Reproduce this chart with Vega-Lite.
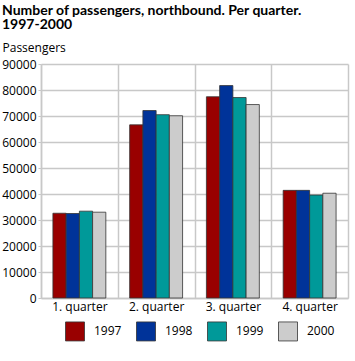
{
  "$schema": "https://vega.github.io/schema/vega-lite/v6.json",
  "autosize": "none",
  "width": 307,
  "height": 234,
  "padding": {"left": 41, "top": 64, "right": 7, "bottom": 63},
  "background": "white",
  "title": {
    "text": ["Number of passengers, northbound. Per quarter.", "1997-2000"],
    "anchor": "start",
    "frame": "group",
    "dx": -39,
    "offset": 9,
    "font": "Lato",
    "fontSize": 14,
    "fontWeight": "bold",
    "color": "#000000",
    "lineHeight": 14
  },
  "data": {
    "values": [
      {"quarter": "1. quarter", "year": "1997", "passengers": 32600},
      {"quarter": "1. quarter", "year": "1998", "passengers": 32500},
      {"quarter": "1. quarter", "year": "1999", "passengers": 33400},
      {"quarter": "1. quarter", "year": "2000", "passengers": 33000},
      {"quarter": "2. quarter", "year": "1997", "passengers": 66600},
      {"quarter": "2. quarter", "year": "1998", "passengers": 72100},
      {"quarter": "2. quarter", "year": "1999", "passengers": 70500},
      {"quarter": "2. quarter", "year": "2000", "passengers": 70100},
      {"quarter": "3. quarter", "year": "1997", "passengers": 77400},
      {"quarter": "3. quarter", "year": "1998", "passengers": 81700},
      {"quarter": "3. quarter", "year": "1999", "passengers": 77100},
      {"quarter": "3. quarter", "year": "2000", "passengers": 74400},
      {"quarter": "4. quarter", "year": "1997", "passengers": 41400},
      {"quarter": "4. quarter", "year": "1998", "passengers": 41400},
      {"quarter": "4. quarter", "year": "1999", "passengers": 39600},
      {"quarter": "4. quarter", "year": "2000", "passengers": 40300}
    ]
  },
  "mark": {"type": "bar", "stroke": "#333333", "strokeWidth": 0.8},
  "encoding": {
    "x": {
      "field": "quarter",
      "type": "nominal",
      "scale": {"paddingInner": 0, "paddingOuter": 0},
      "axis": {
        "title": null,
        "labelAngle": 0,
        "tickBand": "extent",
        "ticks": false,
        "grid": true,
        "gridColor": "#c8c8c8",
        "gridWidth": 1.5,
        "domainColor": "#c8c8c8",
        "domainWidth": 1.5,
        "labelFont": "Open Sans",
        "labelFontSize": 12,
        "labelColor": "#000000",
        "labelPadding": 3
      }
    },
    "xOffset": {
      "field": "year",
      "type": "nominal",
      "scale": {"paddingInner": 0, "paddingOuter": 0.9}
    },
    "y": {
      "field": "passengers",
      "type": "quantitative",
      "scale": {"domain": [0, 90000]},
      "axis": {
        "title": "Passengers",
        "titleAngle": 0,
        "titleAlign": "left",
        "titleBaseline": "alphabetic",
        "titleX": -39,
        "titleY": -13,
        "titleFont": "Open Sans",
        "titleFontSize": 12,
        "titleFontWeight": "normal",
        "titleColor": "#000000",
        "values": [0, 10000, 20000, 30000, 40000, 50000, 60000, 70000, 80000, 90000],
        "format": "d",
        "grid": true,
        "gridColor": "#c8c8c8",
        "gridWidth": 1.5,
        "domain": true,
        "domainColor": "#c8c8c8",
        "domainWidth": 1.5,
        "ticks": true,
        "tickSize": 3,
        "tickColor": "#c8c8c8",
        "labelFont": "Open Sans",
        "labelFontSize": 12,
        "labelColor": "#000000",
        "labelPadding": 2
      }
    },
    "color": {
      "field": "year",
      "type": "nominal",
      "scale": {
        "domain": ["1997", "1998", "1999", "2000"],
        "range": ["#990000", "#003399", "#009999", "#cccccc"]
      },
      "legend": {
        "title": null,
        "orient": "none",
        "direction": "horizontal",
        "legendX": 24,
        "legendY": 257,
        "symbolType": "square",
        "symbolSize": 361,
        "symbolStrokeColor": "#333333",
        "symbolStrokeWidth": 0.8,
        "labelFont": "Open Sans",
        "labelFontSize": 12,
        "labelColor": "#000000",
        "labelOffset": 9,
        "columnPadding": 12
      }
    }
  },
  "config": {"view": {"stroke": null}}
}
